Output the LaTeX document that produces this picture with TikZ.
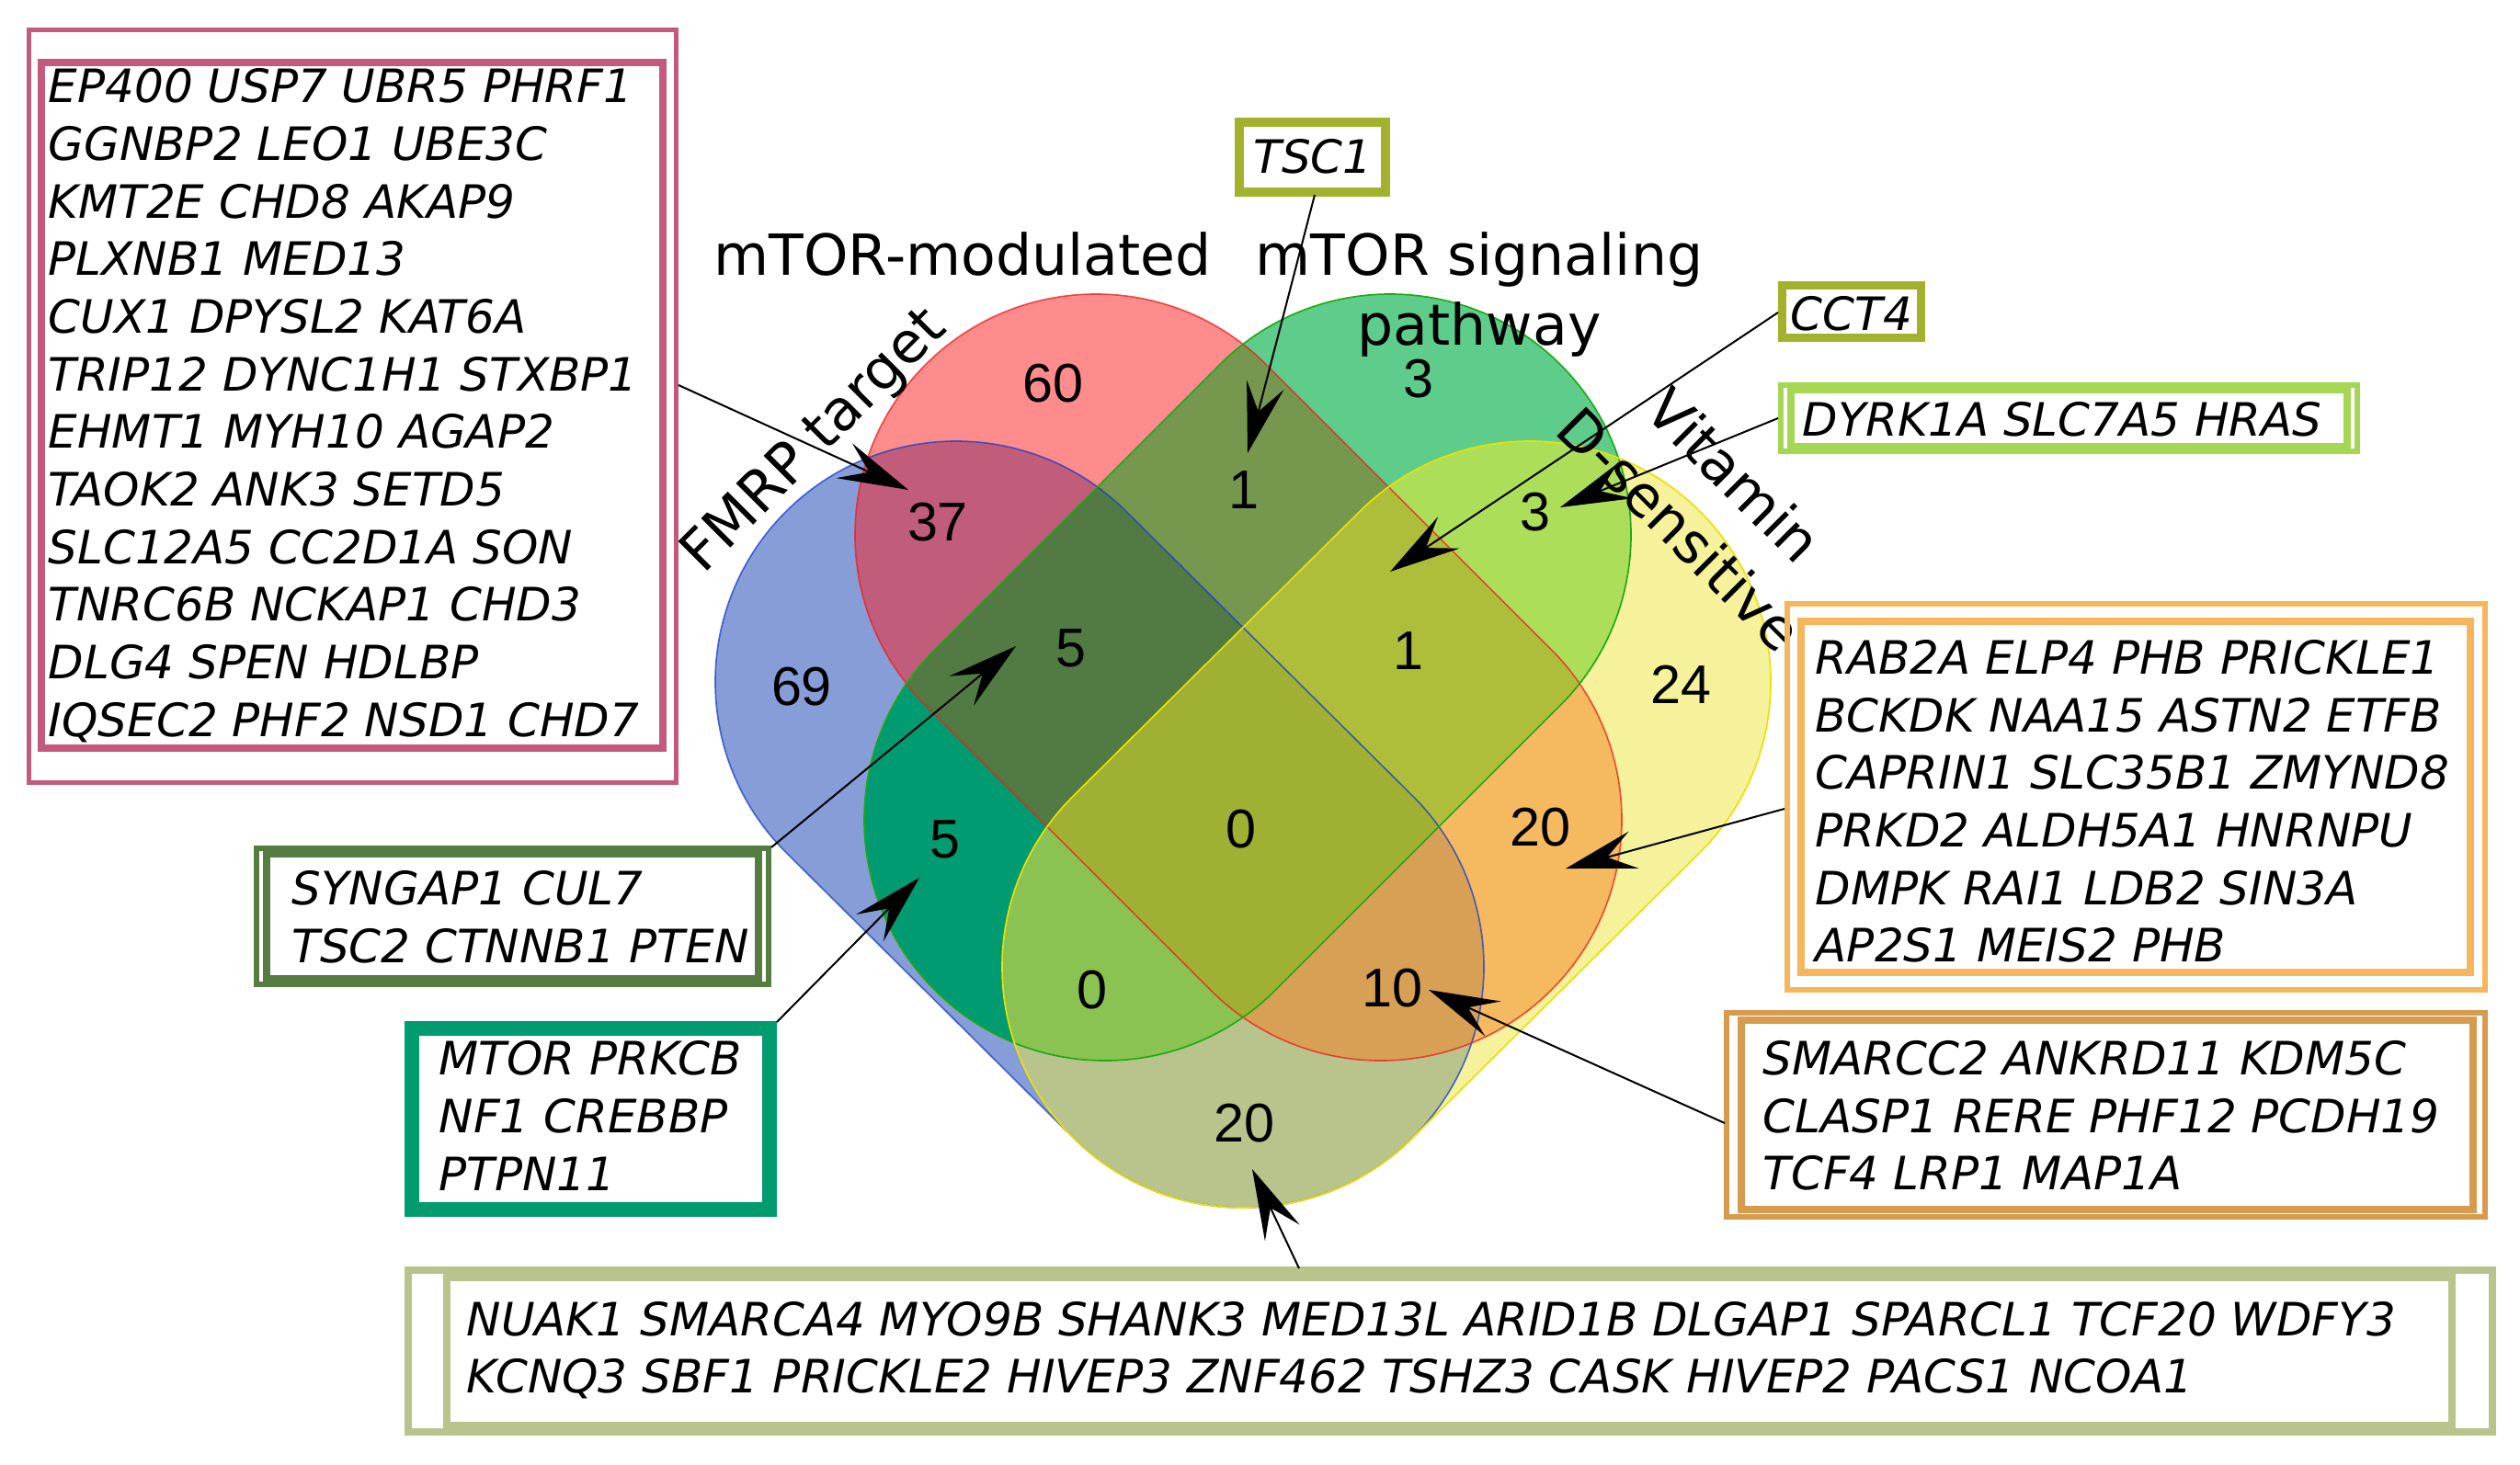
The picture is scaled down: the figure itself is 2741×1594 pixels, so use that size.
\documentclass[tikz,border=0pt]{standalone}
\usepackage{fontspec}
\setmainfont{DejaVu Sans}[ItalicFont={DejaVu Sans Oblique}]
\newfontfamily\numfont{Liberation Sans}
\usetikzlibrary{arrows.meta}
% region colours
\definecolor{cB}{RGB}{135,157,215}
\definecolor{cR}{RGB}{255,140,140}
\definecolor{cG}{RGB}{94,205,140}
\definecolor{cY}{RGB}{245,242,155}
\definecolor{cBR}{RGB}{193,92,122}
\definecolor{cRG}{RGB}{118,152,78}
\definecolor{cBG}{RGB}{0,155,112}
\definecolor{cBY}{RGB}{185,195,140}
\definecolor{cRY}{RGB}{245,185,95}
\definecolor{cGY}{RGB}{172,222,90}
\definecolor{cBRG}{RGB}{82,122,67}
\definecolor{cBRY}{RGB}{215,160,85}
\definecolor{cBGY}{RGB}{138,195,82}
\definecolor{cRGY}{RGB}{175,190,58}
\definecolor{cBRGY}{RGB}{160,176,50}
% outline colours
\definecolor{oB}{RGB}{25,65,200}
\definecolor{oR}{RGB}{240,30,30}
\definecolor{oG}{RGB}{30,170,20}
\definecolor{oY}{RGB}{235,225,0}
% box colours
\definecolor{bxPink}{RGB}{195,90,125}
\definecolor{bxOlive}{RGB}{162,178,45}
\definecolor{bxLime}{RGB}{165,215,85}
\definecolor{bxOrange}{RGB}{245,182,92}
\definecolor{bxBrown}{RGB}{215,155,80}
\definecolor{bxDkGreen}{RGB}{85,125,65}
\definecolor{bxTeal}{RGB}{0,155,110}
\definecolor{bxKhaki}{RGB}{185,195,140}
% set shapes (stadiums)
\def\pB{(1040,742) ++(-45:262) -- ++(312,310) arc[start angle=-45,delta angle=180,radius=262] -- ++(-312,-310) arc[start angle=135,delta angle=180,radius=262] -- cycle}
\def\pR{(1192,582) ++(-45:262) -- ++(310,310) arc[start angle=-45,delta angle=180,radius=262] -- ++(-310,-310) arc[start angle=135,delta angle=180,radius=262] -- cycle}
\def\pG{(1512,582) ++(45:262) -- ++(-310,310) arc[start angle=45,delta angle=180,radius=262] -- ++(310,-310) arc[start angle=225,delta angle=180,radius=262] -- cycle}
\def\pY{(1664,742) ++(45:262) -- ++(-312,310) arc[start angle=45,delta angle=180,radius=262] -- ++(312,-310) arc[start angle=225,delta angle=180,radius=262] -- cycle}
\begin{document}
\begin{tikzpicture}[x=0.3pt,y=-0.3pt,
  gene/.style={font=\fontsize{15}{18.8}\selectfont\itshape, align=left, inner sep=0pt, anchor=west},
  num/.style={font=\numfont\fontsize{17.8}{20}\selectfont, inner sep=0pt},
  lab/.style={font=\fontsize{18.5}{22.8}\selectfont, inner sep=0pt},
  arr/.style={-{Stealth[length=23pt,width=12.5pt,inset=9pt]}, line width=0.6pt, black},
  outl/.style={line width=0.5pt}]
\fill[white] (0,0) rectangle (2741,1594);
\useasboundingbox (0,0) rectangle (2741,1594);
% ---------- Venn regions ----------
\fill[cB] \pB; \fill[cR] \pR; \fill[cG] \pG; \fill[cY] \pY;
\begin{scope}\clip \pB; \fill[cBR] \pR; \end{scope}
\begin{scope}\clip \pB; \fill[cBG] \pG; \end{scope}
\begin{scope}\clip \pB; \fill[cBY] \pY; \end{scope}
\begin{scope}\clip \pR; \fill[cRG] \pG; \end{scope}
\begin{scope}\clip \pR; \fill[cRY] \pY; \end{scope}
\begin{scope}\clip \pG; \fill[cGY] \pY; \end{scope}
\begin{scope}\clip \pB; \clip \pR; \fill[cBRG] \pG; \end{scope}
\begin{scope}\clip \pB; \clip \pR; \fill[cBRY] \pY; \end{scope}
\begin{scope}\clip \pB; \clip \pG; \fill[cBGY] \pY; \end{scope}
\begin{scope}\clip \pR; \clip \pG; \fill[cRGY] \pY; \end{scope}
\begin{scope}\clip \pB; \clip \pR; \clip \pG; \fill[cBRGY] \pY; \end{scope}
% outlines
\draw[outl, oB, draw opacity=0.75] \pB;
\draw[outl, oR, draw opacity=0.75] \pR;
\draw[outl, oG] \pG;
\draw[outl, oY] \pY;
% ---------- counts ----------
\node[num] (n69) at (872,747) {69};
\node[num] (n60) at (1145,417) {60};
\node[num] (n37) at (1020,568) {37};
\node[num] (n1a) at (1353,533) {1};
\node[num] (n3a) at (1543,412) {3};
\node[num] (n3b) at (1670,557) {3};
\node[num] (n5a) at (1165,705) {5};
\node[num] (n1b) at (1532,708) {1};
\node[num] (n24) at (1828,745) {24};
\node[num] (n0a) at (1350,902) {0};
\node[num] (n5b) at (1028,913) {5};
\node[num] (n20a) at (1675,900) {20};
\node[num] (n0b) at (1188,1077) {0};
\node[num] (n10) at (1514,1075) {10};
\node[num] (n20b) at (1353,1222) {20};
% ---------- set labels ----------
\node[lab, anchor=base] (modL) at (1047,299) {mTOR-modulated};
\node[lab, anchor=north, align=center] (sigL) at (1609,252) {mTOR signaling\\pathway};
\node[lab, rotate=45] (fmrpL) at (887,481) {FMRP target};
\node[lab, rotate=-45, align=center, font=\fontsize{18.5}{25}\selectfont] (vitL) at (1857,546) {Vitamin\\D-sensitive};
% ---------- boxes ----------
% pink
\draw[bxPink, line width=1.5pt] (31.5,32.5) rectangle (735.5,851.5);
\draw[bxPink, line width=2.4pt] (45,68) rectangle (721,814);
\node[gene] (pinkT) at (52,441) {EP400 USP7 UBR5 PHRF1\\GGNBP2 LEO1 UBE3C\\KMT2E CHD8 AKAP9\\PLXNB1 MED13\\CUX1 DPYSL2 KAT6A\\TRIP12 DYNC1H1 STXBP1\\EHMT1 MYH10 AGAP2\\TAOK2 ANK3 SETD5\\SLC12A5 CC2D1A SON\\TNRC6B NCKAP1 CHD3\\DLG4 SPEN HDLBP\\IQSEC2 PHF2 NSD1 CHD7};
% TSC1
\draw[bxOlive, line width=3pt] (1348,133) rectangle (1507,209);
\node[gene, anchor=center] (tscT) at (1428,170) {TSC1};
% CCT4
\draw[bxOlive, line width=2.7pt] (1938.5,310.5) rectangle (2089.5,367.5);
\node[gene, anchor=center] (cctT) at (2014,341) {CCT4};
% DYRK1A
\draw[bxLime, line width=1.8pt] (1937,419) rectangle (2564,491);
\draw[bxLime, line width=2.4pt] (1948,424) rectangle (2553,486);
\node[gene] (dyrT) at (1960,456) {DYRK1A SLC7A5 HRAS};
% orange
\draw[bxOrange, line width=1.8pt] (1944,657) rectangle (2703,1077);
\draw[bxOrange, line width=2.4pt] (1959,676) rectangle (2687,1058);
\node[gene] (oraT) at (1974,872) {RAB2A ELP4 PHB PRICKLE1\\BCKDK NAA15 ASTN2 ETFB\\CAPRIN1 SLC35B1 ZMYND8\\PRKD2 ALDH5A1 HNRNPU\\DMPK RAI1 LDB2 SIN3A\\AP2S1 MEIS2 PHB};
% brown
\draw[bxBrown, line width=1.8pt] (1878,1102) rectangle (2703,1324);
\draw[bxBrown, line width=2.4pt] (1894,1110) rectangle (2690,1316);
\node[gene] (broT) at (1917,1214) {SMARCC2 ANKRD11 KDM5C\\CLASP1 RERE PHF12 PCDH19\\TCF4 LRP1 MAP1A};
% SYNGAP1
\draw[bxDkGreen, line width=1.8pt] (279,923) rectangle (836,1071);
\draw[bxDkGreen, line width=2.4pt] (290,929) rectangle (825,1065);
\node[gene] (synT) at (317,998) {SYNGAP1 CUL7\\TSC2 CTNNB1 PTEN};
% MTOR
\draw[bxTeal, line width=4.8pt] (448,1119) rectangle (837,1316);
\node[gene] (mtoT) at (477,1214) {MTOR PRKCB\\NF1 CREBBP\\PTPN11};
% bottom
\draw[bxKhaki, line width=2.4pt] (444,1382) rectangle (2711,1558);
\draw[bxKhaki, line width=2.4pt] (486,1390) rectangle (2667,1551);
\node[gene] (botT) at (507,1469) {NUAK1 SMARCA4 MYO9B SHANK3 MED13L ARID1B DLGAP1 SPARCL1 TCF20 WDFY3\\KCNQ3 SBF1 PRICKLE2 HIVEP3 ZNF462 TSHZ3 CASK HIVEP2 PACS1 NCOA1};
% ---------- connectors ----------
\coordinate (s1) at (738,419);   \coordinate (t1) at (988,533);
\coordinate (s2) at (1430,212);  \coordinate (t2) at (1357,493);
\coordinate (s3) at (1934,340);  \coordinate (t3) at (1512,622);
\coordinate (s4) at (1934,455);  \coordinate (t4) at (1697,552);
\coordinate (s5) at (1941,880);  \coordinate (t5) at (1703,945);
\coordinate (s6) at (1876,1222); \coordinate (t6) at (1554,1077);
\coordinate (s7) at (1413,1380); \coordinate (t7) at (1362,1272);
\coordinate (s8) at (839,922);   \coordinate (t8) at (1105,703);
\coordinate (s9) at (845,1112);  \coordinate (t9) at (1000,955);
\draw[arr] (s1) -- (t1);
\draw[arr] (s2) -- (t2);
\draw[arr] (s3) -- (t3);
\draw[arr] (s4) -- (t4);
\draw[arr] (s5) -- (t5);
\draw[arr] (s6) -- (t6);
\draw[arr] (s7) -- (t7);
\draw[arr] (s8) -- (t8);
\draw[arr] (s9) -- (t9);
\end{tikzpicture}
\end{document}
